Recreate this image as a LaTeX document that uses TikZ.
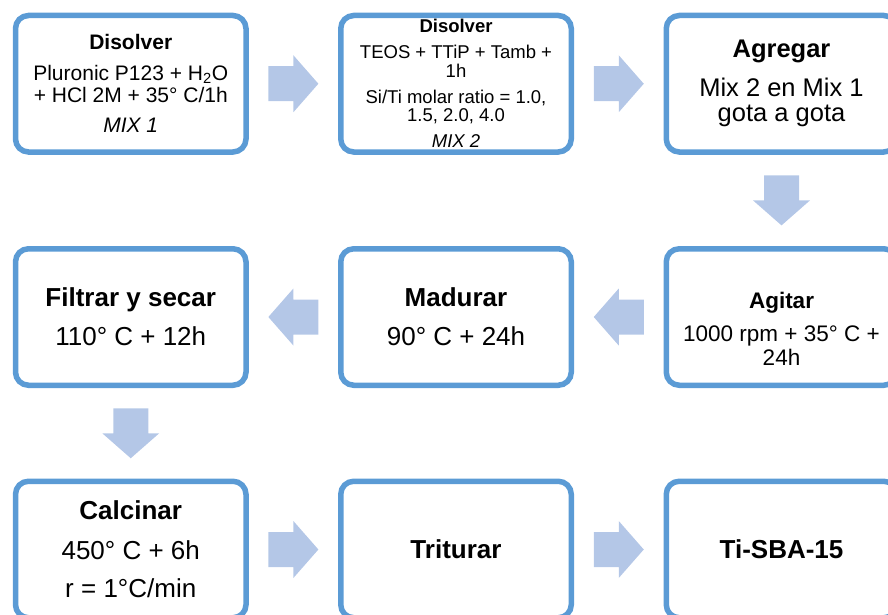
\documentclass[tikz,border=0pt]{standalone}
\usepackage{fontspec}
\setmainfont{Liberation Sans}
\usetikzlibrary{calc}

\definecolor{boxblue}{HTML}{5B9BD5}
\definecolor{arrowblue}{HTML}{B4C7E7}

\tikzset{
  stepbox/.style={draw=boxblue, line width=5.5pt, rounded corners=13pt,
    minimum width=230.5pt, minimum height=136.5pt, inner sep=0pt, align=center},
  blockarrow/.pic={
    \fill[arrowblue] (-25,-17.5) -- (0,-17.5) -- (0,-28.5) -- (25,0)
      -- (0,28.5) -- (0,17.5) -- (-25,17.5) -- cycle;
  }
}

\begin{document}
\begin{tikzpicture}[x=1pt, y=-1pt]
    \clip (0,0) rectangle (888,615);
    % first row
    \node[stepbox, font=\fontsize{21}{22}\selectfont] (mix1) at (130.75,83.75)
      {\textbf{Disolver}\\[8.5pt]Pluronic P123 + H\textsubscript{2}O\\+ HCl 2M + 35° C/1h\\[8.5pt]\textit{MIX 1}};
    \node[stepbox, font=\fontsize{18.5}{18.5}\selectfont] (mix2) at (456,83.75)
      {\textbf{Disolver}\\[7.5pt]TEOS + TTiP + Tamb +\\1h\\[7.5pt]Si/Ti molar ratio = 1.0,\\1.5, 2.0, 4.0\\[7.5pt]\textit{MIX 2}};
    \node[stepbox, font=\fontsize{25.5}{25.5}\selectfont] (agregar) at (781.5,83.75)
      {\textbf{Agregar}\\[12.8pt]Mix 2 en Mix 1\\gota a gota};
    % second row
    \node[stepbox, font=\fontsize{22.5}{23.5}\selectfont] (agitar) at (781.5,317)
      {\mbox{}\\[15.6pt]\textbf{Agitar}\\[10pt]1000 rpm + 35° C +\\24h};
    \node[stepbox, font=\fontsize{26}{28}\selectfont] (madurar) at (456,317)
      {\textbf{Madurar}\\[11pt]90° C + 24h};
    \node[stepbox, font=\fontsize{26}{28}\selectfont] (filtrar) at (130.75,317)
      {\textbf{Filtrar y secar}\\[11pt]110° C + 12h};
    % third row
    \node[stepbox, font=\fontsize{26}{28}\selectfont] (calcinar) at (130.75,549.5)
      {\textbf{Calcinar}\\[12pt]450° C + 6h\\[9.7pt]r = 1°C/min};
    \node[stepbox, font=\fontsize{26}{28}\selectfont] (triturar) at (456,549.5)
      {\textbf{Triturar}};
    \node[stepbox, font=\fontsize{26}{28}\selectfont] (tisba) at (781.5,549.5)
      {\textbf{Ti-SBA-15}};
    % block arrows
    \pic at ($(mix1.east)!0.5!(mix2.west)$) {blockarrow};
    \pic at ($(mix2.east)!0.5!(agregar.west)$) {blockarrow};
    \pic[rotate=-90] at ($(agregar.south)!0.5!(agitar.north)$) {blockarrow};
    \pic[rotate=180] at ($(agitar.west)!0.5!(madurar.east)$) {blockarrow};
    \pic[rotate=180] at ($(madurar.west)!0.5!(filtrar.east)$) {blockarrow};
    \pic[rotate=-90] at ($(filtrar.south)!0.5!(calcinar.north)$) {blockarrow};
    \pic at ($(calcinar.east)!0.5!(triturar.west)$) {blockarrow};
    \pic at ($(triturar.east)!0.5!(tisba.west)$) {blockarrow};
\end{tikzpicture}
\end{document}
